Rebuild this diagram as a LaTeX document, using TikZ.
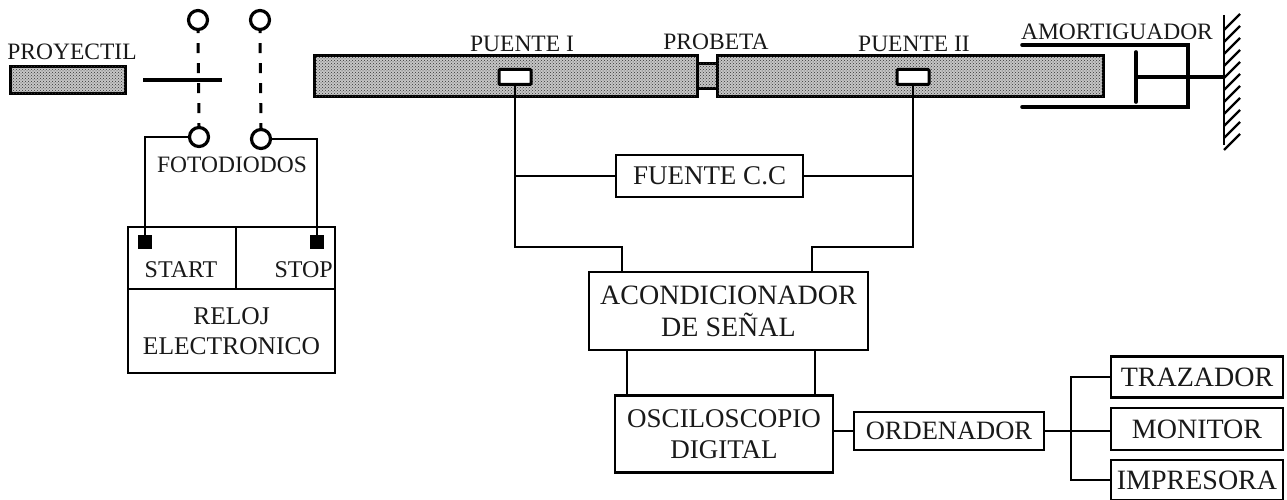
\documentclass[tikz,border=0pt]{standalone}
\usepackage{fontspec}
\setmainfont{Liberation Serif}
\usetikzlibrary{patterns,calc}
\tikzset{
  lbl/.style={font=\fontsize{23.5}{30}\selectfont,inner sep=0pt,text=black!90},
  box/.style={draw=black,line width=2.8pt,font=\fontsize{27}{31}\selectfont,inner sep=0pt,align=center,text=black!90},
  bar/.style={draw=black,line width=3pt,fill=gray!45,postaction={pattern=crosshatch dots,pattern color=black!80},inner sep=0pt},
  gauge/.style={draw=black,line width=3pt,fill=white,rounded corners=1pt,inner sep=0pt,minimum width=32pt,minimum height=15pt},
  diode/.style={circle,draw=black,line width=3.2pt,fill=white,inner sep=0pt,minimum size=19pt},
  wire/.style={draw=black,line width=2.4pt},
  thick wire/.style={draw=black,line width=3.6pt},
  beam/.style={draw=black,line width=3pt,dash pattern=on 10pt off 10pt,dash phase=8pt},
  term/.style={fill=black,inner sep=0pt,minimum width=14pt,minimum height=14pt}
}
\begin{document}
\begin{tikzpicture}[x=1pt,y=-1pt]
\useasboundingbox (0,0) rectangle (1287,500);
% labels
\node[lbl] (lproy) at (72,52) {PROYECTIL};
\node[lbl] (lfoto) at (232,165) {FOTODIODOS};
\node[lbl] (lp1) at (522,44) {PUENTE I};
\node[lbl] (lprob) at (716,42) {PROBETA};
\node[lbl] (lp2) at (914,44) {PUENTE II};
\node[lbl] (lamor) at (1117,32) {AMORTIGUADOR};
% bars
\node[bar,minimum width=115pt,minimum height=27pt] (proy) at (68,80) {};
\node[bar,minimum width=22pt,minimum height=25pt] (prob) at (707,76) {};
\node[bar,minimum width=383pt,minimum height=41pt] (b1) at (505.5,76.5) {};
\node[bar,minimum width=386pt,minimum height=41pt] (b2) at (910,76.5) {};
\node[gauge] (g1) at (515,77) {};
\node[gauge] (g2) at (913,77) {};
% beam
\coordinate (lineL) at (143,80);
\coordinate (lineR) at (222,80);
\draw[thick wire] (lineL) -- (lineR);
\node[diode] (d1) at (198,20) {};
\node[diode] (d2) at (260,20) {};
\node[diode] (d3) at (199,137) {};
\node[diode] (d4) at (261,139) {};
\draw[beam] (d1.south) -- (d3.north);
\draw[beam] (d2.south) -- (d4.north);
% clock
\node[box,minimum width=108pt,minimum height=62pt] (start) at (182,258) {};
\node[box,minimum width=99pt,minimum height=62pt] (stop) at (285.5,258) {};
\node[box,minimum width=207pt,minimum height=84pt,font=\fontsize{25.5}{30}\selectfont] (reloj) at (231.5,331) {RELOJ\\ELECTRONICO};
\node[lbl,font=\fontsize{24}{30}\selectfont] at (181,270) (tstart) {START};
\node[lbl,font=\fontsize{24}{30}\selectfont,anchor=east] at (333,270) (tstop) {STOP};
\node[term] (s1) at (145,242) {};
\node[term] (s2) at (317,242) {};
\draw[wire] (d3.west) -| (s1.north);
\draw[wire] (d4.east) -| (s2.north);
% electronics
\node[box,minimum width=187pt,minimum height=42pt] (fuente) at (709.5,176) {FUENTE C.C};
\node[box,minimum width=279pt,minimum height=78pt,font=\fontsize{28}{32}\selectfont] (acond) at (728.5,311) {ACONDICIONADOR\\DE SEÑAL};
\node[box,minimum width=218pt,minimum height=77pt] (osc) at (724,434) {OSCILOSCOPIO\\DIGITAL};
\node[box,minimum width=190pt,minimum height=38pt,font=\fontsize{26.5}{30}\selectfont] (ord) at (949,431) {ORDENADOR};
\node[box,minimum width=172pt,minimum height=41pt,font=\fontsize{28}{30}\selectfont] (traz) at (1197,377) {TRAZADOR};
\node[box,minimum width=172pt,minimum height=42pt,font=\fontsize{28}{30}\selectfont] (mon) at (1197,429) {MONITOR};
\node[box,minimum width=172pt,minimum height=40pt,font=\fontsize{28}{30}\selectfont] (imp) at (1197,480) {IMPRESORA};
\coordinate (aL) at (622,272);
\coordinate (aR) at (812,272);
\coordinate (oL) at (627,396);
\coordinate (oR) at (815,396);
\coordinate (sp) at (1071,431);
\coordinate (busL) at (515,247);
\coordinate (busR) at (913,247);
\draw[wire] (g1.south) -- (busL) -| (aL);
\draw[wire] (g2.south) -- (busR) -| (aR);
\draw[wire] (g1.south |- fuente.west) -- (fuente.west);
\draw[wire] (fuente.east) -- (g2.south |- fuente.east);
\draw[wire] (oL |- acond.south) -- (oL);
\draw[wire] (oR |- acond.south) -- (oR);
\draw[wire] (osc.east |- ord.west) -- (ord.west);
\draw[wire] (ord.east) -- (mon.west |- sp);
\draw[wire] (traz.west) -| (sp);
\draw[wire] (imp.west) -| (sp);
% damper
\coordinate (dtl) at (1022,45);
\coordinate (dtr) at (1188,45);
\coordinate (dbr) at (1188,107);
\coordinate (dbl) at (1022,107);
\coordinate (pT) at (1136,52);
\coordinate (pB) at (1136,102);
\coordinate (wallT) at (1224,15);
\coordinate (wallB) at (1224,145);
\draw[thick wire,line cap=round] (dtl) -- (dtr) -- (dbr) -- (dbl);
\draw[thick wire,line cap=round] (pT) -- (pB);
\draw[thick wire] (pB |- 0,77) -- (wallT |- 0,77);
\draw[draw=black,line width=2.4pt] (wallT) -- (wallB);
\foreach \y in {30,42,...,150}
  \draw[line width=2.4pt] (1224,\y) -- (1240,\y-16);
\end{tikzpicture}
\end{document}
